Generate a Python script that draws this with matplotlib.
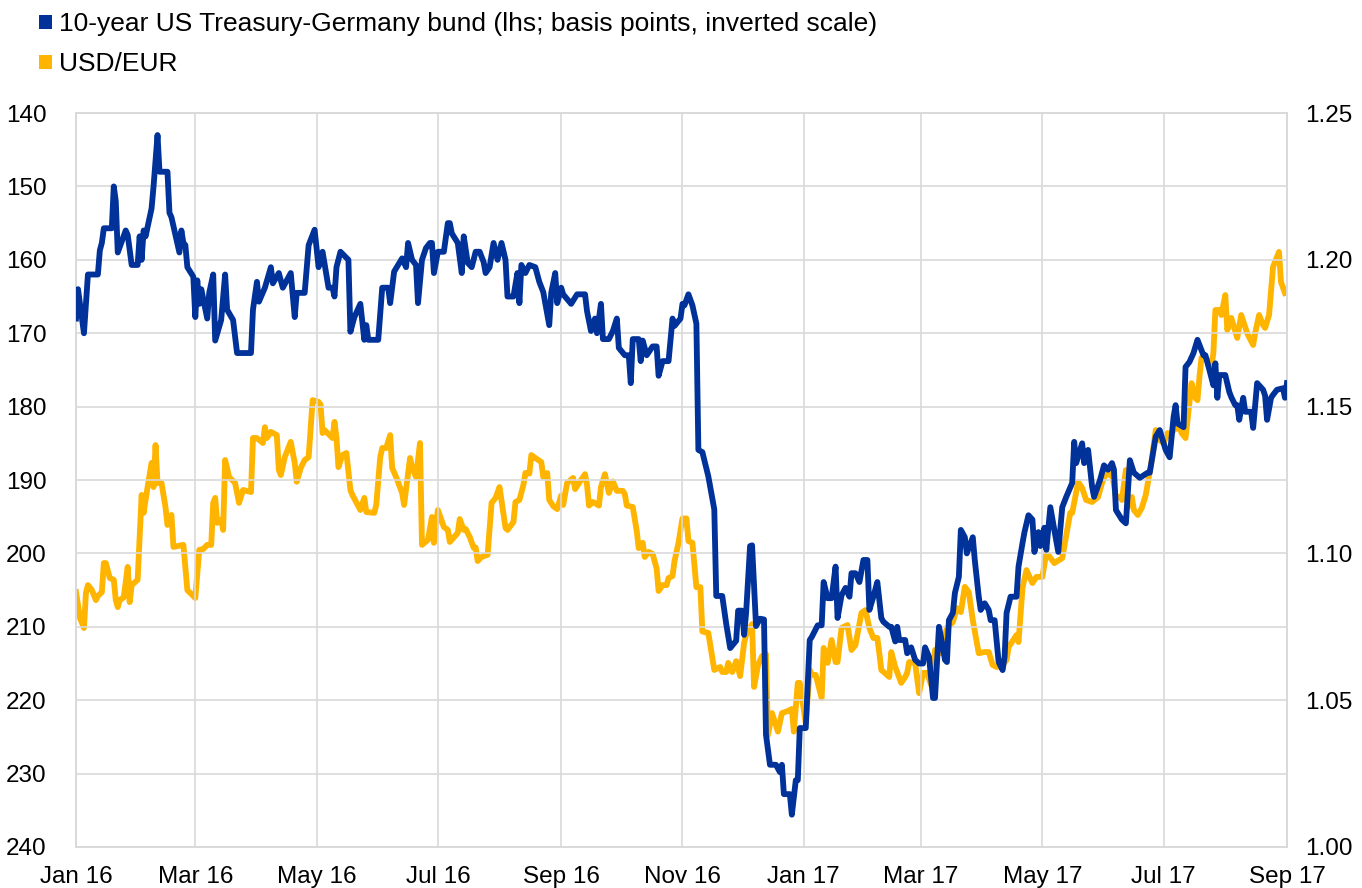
import matplotlib
matplotlib.use("Agg")
import matplotlib.pyplot as plt
import matplotlib.dates as mdates
from matplotlib.patches import Patch
import pandas as pd

plt.rcParams['font.family'] = ['Liberation Sans', 'DejaVu Sans']

# 10-year US Treasury minus German bund spread (basis points)
bund_dates = [
    "2016-01-01", "2016-01-02", "2016-01-05", "2016-01-07", "2016-01-12", "2016-01-13", "2016-01-14", "2016-01-15",
    "2016-01-19", "2016-01-20", "2016-01-21", "2016-01-22", "2016-01-26", "2016-01-27", "2016-01-29", "2016-02-01",
    "2016-02-02", "2016-02-03", "2016-02-04", "2016-02-05", "2016-02-08", "2016-02-09", "2016-02-11", "2016-02-12",
    "2016-02-16", "2016-02-17", "2016-02-18", "2016-02-22", "2016-02-23", "2016-02-24", "2016-02-25", "2016-02-26",
    "2016-02-29", "2016-03-01", "2016-03-02", "2016-03-03", "2016-03-04", "2016-03-07", "2016-03-08", "2016-03-10",
    "2016-03-11", "2016-03-14", "2016-03-16", "2016-03-17", "2016-03-20", "2016-03-22", "2016-03-29", "2016-03-30",
    "2016-04-01", "2016-04-02", "2016-04-05", "2016-04-08", "2016-04-09", "2016-04-12", "2016-04-14", "2016-04-18",
    "2016-04-20", "2016-04-21", "2016-04-25", "2016-04-27", "2016-04-30", "2016-05-02", "2016-05-04", "2016-05-07",
    "2016-05-09", "2016-05-10", "2016-05-11", "2016-05-13", "2016-05-17", "2016-05-18", "2016-05-20", "2016-05-23",
    "2016-05-25", "2016-05-26", "2016-05-27", "2016-06-01", "2016-06-03", "2016-06-06", "2016-06-07", "2016-06-09",
    "2016-06-13", "2016-06-15", "2016-06-16", "2016-06-18", "2016-06-20", "2016-06-21", "2016-06-23", "2016-06-25",
    "2016-06-27", "2016-06-28", "2016-06-29", "2016-07-01", "2016-07-04", "2016-07-06", "2016-07-07", "2016-07-08",
    "2016-07-11", "2016-07-13", "2016-07-14", "2016-07-16", "2016-07-18", "2016-07-20", "2016-07-22", "2016-07-24",
    "2016-07-25", "2016-07-27", "2016-07-29", "2016-07-31", "2016-08-02", "2016-08-04", "2016-08-05", "2016-08-08",
    "2016-08-10", "2016-08-11", "2016-08-12", "2016-08-14", "2016-08-16", "2016-08-19", "2016-08-21", "2016-08-23",
    "2016-08-26", "2016-08-27", "2016-08-29", "2016-08-30", "2016-09-01", "2016-09-02", "2016-09-06", "2016-09-09",
    "2016-09-13", "2016-09-14", "2016-09-16", "2016-09-18", "2016-09-19", "2016-09-21", "2016-09-22", "2016-09-25",
    "2016-09-27", "2016-09-29", "2016-09-30", "2016-10-03", "2016-10-05", "2016-10-06", "2016-10-07", "2016-10-10",
    "2016-10-11", "2016-10-12", "2016-10-14", "2016-10-17", "2016-10-19", "2016-10-20", "2016-10-22", "2016-10-25",
    "2016-10-27", "2016-10-28", "2016-10-31", "2016-11-01", "2016-11-02", "2016-11-04", "2016-11-06", "2016-11-08",
    "2016-11-09", "2016-11-11", "2016-11-14", "2016-11-16", "2016-11-17", "2016-11-18", "2016-11-21", "2016-11-23",
    "2016-11-25", "2016-11-28", "2016-11-29", "2016-12-01", "2016-12-02", "2016-12-03", "2016-12-05", "2016-12-06",
    "2016-12-08", "2016-12-10", "2016-12-12", "2016-12-13", "2016-12-15", "2016-12-18", "2016-12-20", "2016-12-21",
    "2016-12-22", "2016-12-25", "2016-12-26", "2016-12-28", "2016-12-29", "2016-12-30", "2017-01-02", "2017-01-04",
    "2017-01-05", "2017-01-08", "2017-01-10", "2017-01-11", "2017-01-13", "2017-01-15", "2017-01-17", "2017-01-18",
    "2017-01-20", "2017-01-22", "2017-01-24", "2017-01-25", "2017-01-27", "2017-01-29", "2017-01-31", "2017-02-02",
    "2017-02-03", "2017-02-05", "2017-02-07", "2017-02-09", "2017-02-10", "2017-02-13", "2017-02-14", "2017-02-16",
    "2017-02-17", "2017-02-18", "2017-02-21", "2017-02-22", "2017-02-24", "2017-02-26", "2017-02-28", "2017-03-02",
    "2017-03-03", "2017-03-05", "2017-03-07", "2017-03-08", "2017-03-10", "2017-03-12", "2017-03-13", "2017-03-14",
    "2017-03-15", "2017-03-17", "2017-03-18", "2017-03-20", "2017-03-21", "2017-03-23", "2017-03-24", "2017-03-27",
    "2017-03-28", "2017-03-30", "2017-03-31", "2017-04-02", "2017-04-04", "2017-04-05", "2017-04-07", "2017-04-09",
    "2017-04-11", "2017-04-12", "2017-04-13", "2017-04-15", "2017-04-18", "2017-04-19", "2017-04-21", "2017-04-22",
    "2017-04-24", "2017-04-26", "2017-04-27", "2017-04-29", "2017-04-30", "2017-05-02", "2017-05-03", "2017-05-05",
    "2017-05-07", "2017-05-09", "2017-05-11", "2017-05-13", "2017-05-16", "2017-05-17", "2017-05-18", "2017-05-21",
    "2017-05-22", "2017-05-24", "2017-05-26", "2017-05-27", "2017-05-30", "2017-06-01", "2017-06-03", "2017-06-05",
    "2017-06-06", "2017-06-07", "2017-06-10", "2017-06-12", "2017-06-14", "2017-06-16", "2017-06-19", "2017-06-23",
    "2017-06-24", "2017-06-27", "2017-06-29", "2017-07-02", "2017-07-04", "2017-07-06", "2017-07-07", "2017-07-08",
    "2017-07-11", "2017-07-12", "2017-07-14", "2017-07-16", "2017-07-18", "2017-07-20", "2017-07-21", "2017-07-22",
    "2017-07-24", "2017-07-26", "2017-07-27", "2017-07-28", "2017-07-29", "2017-08-01", "2017-08-03", "2017-08-04",
    "2017-08-06", "2017-08-07", "2017-08-08", "2017-08-10", "2017-08-11", "2017-08-14", "2017-08-15", "2017-08-17",
    "2017-08-20", "2017-08-21", "2017-08-22", "2017-08-24", "2017-08-25", "2017-08-27", "2017-08-30", "2017-08-31",
    "2017-09-01",
]
bund_bp = [
    168.0, 164.0, 170.0, 162.0, 162.0, 158.7, 157.7, 155.7,
    155.7, 150.0, 152.0, 159.0, 156.0, 156.6, 160.7, 160.7,
    156.8, 160.0, 156.0, 156.8, 153.0, 150.0, 143.0, 148.0,
    148.0, 153.6, 154.2, 159.0, 156.0, 157.7, 158.0, 161.0,
    162.3, 167.8, 162.8, 166.0, 164.0, 168.0, 164.5, 162.0,
    171.0, 168.2, 162.0, 166.8, 168.2, 172.7, 172.7, 166.8,
    163.0, 165.7, 163.8, 161.0, 163.2, 161.8, 163.8, 161.8,
    167.8, 164.5, 164.5, 158.0, 155.9, 161.0, 158.9, 163.8,
    163.8, 165.0, 161.0, 158.9, 160.0, 169.8, 167.8, 166.0,
    170.9, 168.9, 170.9, 170.9, 163.8, 163.8, 165.9, 161.6,
    159.8, 161.0, 157.7, 160.0, 160.7, 165.9, 160.0, 158.4,
    157.7, 157.7, 161.8, 158.9, 158.9, 155.0, 155.0, 156.4,
    157.7, 161.8, 156.8, 160.4, 161.0, 158.9, 158.9, 160.3,
    161.8, 161.0, 157.7, 160.0, 157.7, 160.0, 165.0, 165.0,
    161.8, 165.9, 160.7, 161.8, 160.7, 161.0, 163.0, 164.4,
    168.9, 164.5, 161.8, 165.9, 163.8, 164.7, 166.0, 164.7,
    164.7, 167.0, 169.7, 168.0, 170.0, 166.0, 170.8, 170.8,
    169.7, 168.0, 172.0, 173.0, 173.0, 176.8, 170.8, 170.8,
    173.8, 171.0, 173.0, 171.8, 171.8, 175.8, 173.8, 173.8,
    168.0, 169.0, 168.0, 166.0, 166.2, 164.7, 166.2, 168.7,
    185.9, 186.2, 189.5, 192.5, 194.0, 205.8, 205.8, 209.6,
    212.9, 211.9, 207.8, 207.8, 211.1, 208.1, 199.0, 198.9,
    209.9, 208.9, 209.0, 224.7, 228.8, 228.8, 229.8, 228.8,
    232.8, 232.8, 235.6, 230.9, 230.9, 223.8, 223.8, 211.8,
    211.4, 209.8, 209.8, 203.9, 206.1, 206.1, 201.8, 208.8,
    205.7, 204.7, 205.9, 202.7, 202.7, 203.9, 200.9, 200.9,
    207.7, 205.9, 203.9, 208.8, 209.3, 210.0, 210.0, 212.0,
    210.0, 211.8, 211.8, 213.6, 212.8, 214.5, 215.0, 215.0,
    212.8, 214.1, 219.7, 219.7, 210.0, 212.8, 214.5, 214.8,
    209.1, 208.1, 205.4, 203.2, 196.8, 197.8, 200.0, 197.8,
    200.9, 205.9, 207.7, 206.8, 207.7, 209.1, 209.1, 214.8,
    215.9, 214.1, 208.1, 205.9, 205.9, 201.8, 198.6, 197.1,
    194.8, 195.4, 199.8, 197.1, 199.0, 196.5, 199.5, 193.7,
    196.8, 199.8, 193.7, 192.3, 190.4, 184.8, 187.7, 185.0,
    187.7, 185.9, 190.9, 192.3, 190.0, 188.0, 188.6, 187.7,
    188.6, 194.1, 195.4, 195.9, 187.3, 189.0, 189.7, 189.0,
    189.0, 184.1, 183.2, 185.9, 186.9, 181.4, 179.8, 182.3,
    182.8, 174.6, 173.9, 172.7, 170.9, 172.3, 173.0, 173.0,
    175.0, 177.1, 174.1, 178.8, 175.7, 175.7, 178.0, 178.7,
    179.8, 179.8, 181.8, 178.8, 180.7, 180.7, 182.9, 176.8,
    177.7, 178.5, 181.8, 178.8, 178.4, 177.7, 177.5, 178.8,
    176.8,
]

# USD per EUR exchange rate
fx_dates = [
    "2016-01-01", "2016-01-03", "2016-01-05", "2016-01-06", "2016-01-07", "2016-01-09", "2016-01-11", "2016-01-12",
    "2016-01-14", "2016-01-15", "2016-01-16", "2016-01-18", "2016-01-20", "2016-01-21", "2016-01-22", "2016-01-23",
    "2016-01-25", "2016-01-27", "2016-01-28", "2016-01-29", "2016-02-01", "2016-02-03", "2016-02-04", "2016-02-06",
    "2016-02-08", "2016-02-09", "2016-02-10", "2016-02-11", "2016-02-13", "2016-02-15", "2016-02-16", "2016-02-18",
    "2016-02-19", "2016-02-24", "2016-02-26", "2016-03-01", "2016-03-03", "2016-03-05", "2016-03-07", "2016-03-09",
    "2016-03-10", "2016-03-11", "2016-03-12", "2016-03-14", "2016-03-15", "2016-03-16", "2016-03-18", "2016-03-21",
    "2016-03-23", "2016-03-25", "2016-03-29", "2016-03-30", "2016-04-01", "2016-04-04", "2016-04-05", "2016-04-06",
    "2016-04-08", "2016-04-11", "2016-04-12", "2016-04-13", "2016-04-15", "2016-04-18", "2016-04-20", "2016-04-21",
    "2016-04-23", "2016-04-25", "2016-04-27", "2016-04-29", "2016-05-02", "2016-05-03", "2016-05-04", "2016-05-05",
    "2016-05-09", "2016-05-10", "2016-05-11", "2016-05-12", "2016-05-14", "2016-05-16", "2016-05-18", "2016-05-19",
    "2016-05-23", "2016-05-25", "2016-05-26", "2016-05-30", "2016-05-31", "2016-06-02", "2016-06-03", "2016-06-05",
    "2016-06-07", "2016-06-08", "2016-06-10", "2016-06-13", "2016-06-14", "2016-06-17", "2016-06-18", "2016-06-20",
    "2016-06-22", "2016-06-23", "2016-06-26", "2016-06-28", "2016-06-29", "2016-07-01", "2016-07-04", "2016-07-06",
    "2016-07-07", "2016-07-11", "2016-07-12", "2016-07-14", "2016-07-15", "2016-07-17", "2016-07-19", "2016-07-20",
    "2016-07-21", "2016-07-23", "2016-07-26", "2016-07-28", "2016-07-30", "2016-08-01", "2016-08-04", "2016-08-05",
    "2016-08-08", "2016-08-09", "2016-08-11", "2016-08-13", "2016-08-14", "2016-08-16", "2016-08-17", "2016-08-19",
    "2016-08-22", "2016-08-23", "2016-08-25", "2016-08-26", "2016-08-28", "2016-08-30", "2016-09-01", "2016-09-02",
    "2016-09-04", "2016-09-07", "2016-09-08", "2016-09-10", "2016-09-13", "2016-09-14", "2016-09-15", "2016-09-17",
    "2016-09-20", "2016-09-21", "2016-09-23", "2016-09-25", "2016-09-27", "2016-09-29", "2016-10-02", "2016-10-03",
    "2016-10-04", "2016-10-07", "2016-10-09", "2016-10-10", "2016-10-12", "2016-10-13", "2016-10-15", "2016-10-17",
    "2016-10-19", "2016-10-20", "2016-10-22", "2016-10-24", "2016-10-25", "2016-10-27", "2016-10-28", "2016-10-30",
    "2016-11-01", "2016-11-03", "2016-11-04", "2016-11-06", "2016-11-08", "2016-11-10", "2016-11-11", "2016-11-14",
    "2016-11-17", "2016-11-20", "2016-11-21", "2016-11-23", "2016-11-24", "2016-11-26", "2016-11-28", "2016-11-30",
    "2016-12-02", "2016-12-03", "2016-12-06", "2016-12-07", "2016-12-09", "2016-12-11", "2016-12-13", "2016-12-14",
    "2016-12-16", "2016-12-19", "2016-12-21", "2016-12-24", "2016-12-26", "2016-12-27", "2016-12-29", "2016-12-30",
    "2017-01-02", "2017-01-04", "2017-01-05", "2017-01-07", "2017-01-10", "2017-01-11", "2017-01-13", "2017-01-15",
    "2017-01-17", "2017-01-18", "2017-01-20", "2017-01-23", "2017-01-25", "2017-01-27", "2017-01-30", "2017-02-01",
    "2017-02-03", "2017-02-05", "2017-02-07", "2017-02-08", "2017-02-09", "2017-02-13", "2017-02-14", "2017-02-16",
    "2017-02-19", "2017-02-21", "2017-02-22", "2017-02-23", "2017-02-26", "2017-02-28", "2017-03-02", "2017-03-04",
    "2017-03-06", "2017-03-08", "2017-03-10", "2017-03-11", "2017-03-14", "2017-03-17", "2017-03-19", "2017-03-21",
    "2017-03-23", "2017-03-25", "2017-03-27", "2017-03-30", "2017-04-02", "2017-04-04", "2017-04-06", "2017-04-08",
    "2017-04-11", "2017-04-13", "2017-04-14", "2017-04-18", "2017-04-19", "2017-04-21", "2017-04-23", "2017-04-26",
    "2017-04-28", "2017-05-01", "2017-05-03", "2017-05-07", "2017-05-11", "2017-05-15", "2017-05-16", "2017-05-19",
    "2017-05-21", "2017-05-23", "2017-05-26", "2017-05-29", "2017-05-31", "2017-06-02", "2017-06-04", "2017-06-05",
    "2017-06-07", "2017-06-09", "2017-06-10", "2017-06-12", "2017-06-13", "2017-06-15", "2017-06-16", "2017-06-18",
    "2017-06-20", "2017-06-22", "2017-06-25", "2017-06-27", "2017-06-29", "2017-07-01", "2017-07-03", "2017-07-04",
    "2017-07-06", "2017-07-09", "2017-07-10", "2017-07-12", "2017-07-13", "2017-07-15", "2017-07-17", "2017-07-18",
    "2017-07-19", "2017-07-20", "2017-07-23", "2017-07-25", "2017-07-26", "2017-07-27", "2017-07-29", "2017-07-30",
    "2017-08-01", "2017-08-02", "2017-08-04", "2017-08-07", "2017-08-09", "2017-08-11", "2017-08-12", "2017-08-15",
    "2017-08-16", "2017-08-18", "2017-08-20", "2017-08-21", "2017-08-23", "2017-08-25", "2017-08-27", "2017-08-28",
    "2017-08-29", "2017-08-31",
]
fx_rate = [
    1.0868, 1.0780, 1.0746, 1.0865, 1.0892, 1.0875, 1.0841, 1.0855,
    1.0868, 1.0967, 1.0967, 1.0916, 1.0910, 1.0841, 1.0817, 1.0841,
    1.0850, 1.0954, 1.0834, 1.0892, 1.0910, 1.1199, 1.1138, 1.1226,
    1.1308, 1.1226, 1.1369, 1.1240, 1.1240, 1.1158, 1.1097, 1.1131,
    1.1022, 1.1029, 1.0875, 1.0848, 1.1012, 1.1015, 1.1029, 1.1029,
    1.1172, 1.1189, 1.1104, 1.1115, 1.1080, 1.1318, 1.1260, 1.1240,
    1.1172, 1.1216, 1.1209, 1.1393, 1.1393, 1.1376, 1.1430, 1.1393,
    1.1414, 1.1403, 1.1284, 1.1267, 1.1328, 1.1380, 1.1308, 1.1244,
    1.1291, 1.1318, 1.1328, 1.1522, 1.1516, 1.1506, 1.1410, 1.1420,
    1.1393, 1.1448, 1.1393, 1.1294, 1.1335, 1.1342, 1.1216, 1.1199,
    1.1148, 1.1189, 1.1141, 1.1138, 1.1165, 1.1328, 1.1359, 1.1359,
    1.1403, 1.1291, 1.1260, 1.1206, 1.1165, 1.1325, 1.1294, 1.1260,
    1.1376, 1.1029, 1.1046, 1.1124, 1.1036, 1.1148, 1.1090, 1.1080,
    1.1039, 1.1070, 1.1117, 1.1080, 1.1083, 1.1056, 1.1019, 1.1020,
    1.0974, 1.0988, 1.0995, 1.1172, 1.1189, 1.1226, 1.1087, 1.1080,
    1.1107, 1.1175, 1.1182, 1.1233, 1.1274, 1.1272, 1.1335, 1.1325,
    1.1311, 1.1260, 1.1274, 1.1182, 1.1161, 1.1151, 1.1197, 1.1165,
    1.1240, 1.1257, 1.1219, 1.1240, 1.1270, 1.1233, 1.1163, 1.1175,
    1.1163, 1.1226, 1.1270, 1.1206, 1.1245, 1.1213, 1.1213, 1.1202,
    1.1163, 1.1158, 1.1076, 1.1018, 1.1036, 1.0988, 1.1005, 1.0998,
    1.0949, 1.0872, 1.0892, 1.0892, 1.0916, 1.0923, 1.0974, 1.1036,
    1.1119, 1.1119, 1.1042, 1.1036, 1.0885, 1.0885, 1.0734, 1.0729,
    1.0603, 1.0613, 1.0596, 1.0596, 1.0627, 1.0596, 1.0633, 1.0582,
    1.0695, 1.0722, 1.0759, 1.0545, 1.0620, 1.0650, 1.0657, 1.0381,
    1.0456, 1.0393, 1.0456, 1.0463, 1.0470, 1.0393, 1.0559, 1.0559,
    1.0422, 1.0603, 1.0586, 1.0586, 1.0507, 1.0678, 1.0627, 1.0705,
    1.0630, 1.0630, 1.0746, 1.0756, 1.0671, 1.0688, 1.0797, 1.0807,
    1.0746, 1.0712, 1.0712, 1.0660, 1.0603, 1.0579, 1.0664, 1.0613,
    1.0559, 1.0579, 1.0593, 1.0630, 1.0627, 1.0524, 1.0593, 1.0593,
    1.0552, 1.0671, 1.0671, 1.0660, 1.0746, 1.0766, 1.0814, 1.0800,
    1.0886, 1.0868, 1.0773, 1.0660, 1.0664, 1.0664, 1.0620, 1.0613,
    1.0620, 1.0637, 1.0681, 1.0722, 1.0698, 1.0882, 1.0943, 1.0899,
    1.0920, 1.0920, 1.1003, 1.0967, 1.0984, 1.1138, 1.1138, 1.1243,
    1.1223, 1.1182, 1.1175, 1.1192, 1.1240, 1.1274, 1.1267, 1.1274,
    1.1192, 1.1192, 1.1182, 1.1284, 1.1158, 1.1192, 1.1148, 1.1131,
    1.1155, 1.1199, 1.1318, 1.1420, 1.1386, 1.1376, 1.1410, 1.1400,
    1.1420, 1.1431, 1.1410, 1.1393, 1.1454, 1.1580, 1.1529, 1.1522,
    1.1601, 1.1666, 1.1659, 1.1635, 1.1683, 1.1829, 1.1829, 1.1812,
    1.1880, 1.1761, 1.1802, 1.1734, 1.1812, 1.1771, 1.1750, 1.1710,
    1.1750, 1.1812, 1.1778, 1.1768, 1.1812, 1.1976, 1.2010, 1.2027,
    1.1924, 1.1887,
]

left_ticks = [140, 150, 160, 170, 180, 190, 200, 210, 220, 230, 240]
right_ticks = [1.00, 1.05, 1.10, 1.15, 1.20, 1.25]

blue = "#003299"
yellow = "#FFB400"
grid_col = "#d9d9d9"

fig = plt.figure(figsize=(13.62, 8.88), dpi=100)
ax = fig.add_axes([0.0558, 0.0462, 0.8891, 0.8265])
ax2 = ax.twinx()

ax.plot(pd.to_datetime(bund_dates), bund_bp, color=blue, lw=4.2, zorder=3)
ax2.plot(pd.to_datetime(fx_dates), fx_rate, color=yellow, lw=4.2, zorder=2)

# bund line drawn above the fx line
ax.set_zorder(ax2.get_zorder() + 1)
ax.patch.set_visible(False)

ax.set_ylim(240, 140)
ax.set_yticks(left_ticks)
ax2.set_ylim(1.00, 1.25)
ax2.set_yticks(right_ticks)
ax2.set_yticklabels([f"{v:.2f}" for v in right_ticks])

ax.set_xlim(pd.Timestamp("2016-01-01"), pd.Timestamp("2017-09-01"))
ax.xaxis.set_major_locator(mdates.MonthLocator(bymonth=[1, 3, 5, 7, 9, 11]))
ax.xaxis.set_major_formatter(mdates.DateFormatter("%b %y"))

ax.grid(True, color=grid_col, lw=1.2)
for a in (ax, ax2):
    for s in a.spines.values():
        s.set_color(grid_col)
        s.set_linewidth(1.2)
    a.tick_params(length=0, labelsize=17.5, colors="black")
ax.tick_params(axis="y", pad=21)
ax.tick_params(axis="x", pad=14)
ax2.tick_params(axis="y", pad=13)

handles = [Patch(facecolor=blue, edgecolor="none"), Patch(facecolor=yellow, edgecolor="none")]
labels = ["10-year US Treasury-Germany bund (lhs; basis points, inverted scale)", "USD/EUR"]
fig.legend(handles, labels, loc="upper left", bbox_to_anchor=(0.029, 0.986), frameon=False,
           fontsize=19, handlelength=0.48, handleheight=0.48, handletextpad=0.25,
           labelspacing=0.6, borderpad=0, borderaxespad=0)

fig.savefig("out.png", dpi=100)
